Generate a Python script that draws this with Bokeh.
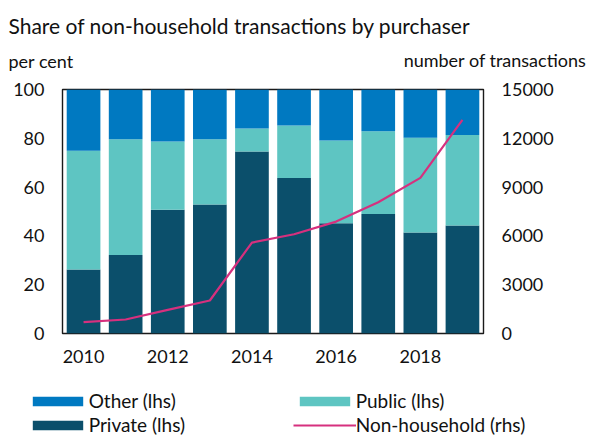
from bokeh.plotting import figure
from bokeh.layouts import column
from bokeh.models import (Range1d, LinearAxis, FixedTicker, Label, Legend,
                          LegendItem, ColumnDataSource)
from bokeh.embed import file_html
from bokeh.resources import INLINE

# ---- data ----
years = [2010, 2011, 2012, 2013, 2014, 2015, 2016, 2017, 2018, 2019]
private = [26.2, 32.2, 50.7, 52.9, 74.6, 63.7, 45.2, 49.0, 41.4, 44.3]
public = [48.7, 47.4, 28.0, 26.7, 9.4, 21.5, 33.9, 33.9, 38.8, 37.1]
other = [25.1, 20.4, 21.3, 20.4, 16.0, 14.8, 20.9, 17.1, 19.8, 18.6]
transactions = [700, 860, 1450, 2030, 5590, 6100, 6880, 8070, 9570, 13130]

left_ticks = [0, 20, 40, 60, 80, 100]
right_ticks = [0, 3000, 6000, 9000, 12000, 15000]
x_ticks = [2010, 2012, 2014, 2016, 2018]

title_text = "Share of non-household transactions by purchaser"
left_unit = "per cent"
right_unit = "number of transactions"
legend_labels = ["Other (lhs)", "Public (lhs)", "Private (lhs)", "Non-household (rhs)"]

C_OTHER = "#0079C1"
C_PUBLIC = "#5EC5C2"
C_PRIVATE = "#0B4F6B"
C_LINE = "#D6307E"
FONT = "Lato"
TXT = "#111111"

# geometry (canvas pixels)
W = 591
H_MAIN, H_LEG = 384, 52
FL, FR, FT, FB = 62, 483, 89, 333
X0, X1 = 2009.5, 2019.5
Y0, Y1 = 0, 100

def px_x(px):
    return X0 + (px - FL) / (FR - FL) * (X1 - X0)

def px_y(py):
    return Y0 + (FB - py) / (FB - FT) * (Y1 - Y0)

src = ColumnDataSource(dict(year=years, private=private, public=public, other=other,
                            transactions=transactions))

p = figure(width=W, height=H_MAIN, output_backend="svg", toolbar_location=None,
           x_range=Range1d(X0, X1), y_range=Range1d(Y0, Y1),
           min_border_left=FL, min_border_right=W - FR, min_border_top=FT,
           min_border_bottom=H_MAIN - FB)
p.title = None
p.grid.visible = False
p.background_fill_color = "white"
p.border_fill_color = "white"
p.outline_line_color = "#1a1a1a"
p.outline_line_width = 1.4

p.extra_y_ranges = {"rhs": Range1d(0, 15000)}

bars = p.vbar_stack(["private", "public", "other"], x="year", width=0.8,
                    color=[C_PRIVATE, C_PUBLIC, C_OTHER], line_color=None, source=src)
ln = p.line("year", "transactions", source=src, y_range_name="rhs",
            line_color=C_LINE, line_width=2.2)

def style_axis(ax, ticks, standoff):
    ax.ticker = FixedTicker(ticks=ticks)
    ax.major_tick_line_color = None
    ax.minor_tick_line_color = None
    ax.major_tick_in = 0
    ax.major_tick_out = 0
    ax.axis_line_color = None
    ax.major_label_text_font = FONT
    ax.major_label_text_font_size = "18px"
    ax.major_label_text_color = TXT
    ax.major_label_standoff = standoff

style_axis(p.yaxis[0], left_ticks, 18)
style_axis(p.xaxis[0], x_ticks, 16)
rax = LinearAxis(y_range_name="rhs")
style_axis(rax, right_ticks, 18)
p.add_layout(rax, "right")

def txt(text, px, py, size, align):
    return Label(x=px_x(px), y=px_y(py), text=text, text_font=FONT,
                 text_font_size=size, text_color=TXT, text_baseline="alphabetic",
                 text_align=align)

p.add_layout(txt(title_text, 8, 25, "21px", "left"), "above")
p.add_layout(txt(left_unit, 8, 60, "18px", "left"), "above")
p.add_layout(txt(right_unit, 586, 59.5, "18px", "right"), "above")

# ---- legend strip below (same series, hidden proxies) ----
q = figure(width=W, height=H_LEG, output_backend="svg", toolbar_location=None,
           x_range=Range1d(X0, X1), y_range=Range1d(Y0, Y1),
           x_axis_location=None, y_axis_location=None,
           min_border=0, min_border_left=0, min_border_right=0,
           min_border_top=0, min_border_bottom=0)
q.title = None
q.grid.visible = False
q.outline_line_color = None
for fig in (p, q):
    try:
        fig.frame_align = False
    except Exception:
        pass

q_bars = q.vbar_stack(["private", "public", "other"], x="year", width=0.8,
                      color=[C_PRIVATE, C_PUBLIC, C_OTHER], line_color=None, source=src)
q_line = q.line("year", "transactions", source=src, line_color=C_LINE, line_width=2.2)
for r in list(q_bars) + [q_line]:
    r.visible = False

legend = Legend(items=[
    LegendItem(label=legend_labels[0], renderers=[q_bars[2]]),
    LegendItem(label=legend_labels[1], renderers=[q_bars[1]]),
    LegendItem(label=legend_labels[2], renderers=[q_bars[0]]),
    LegendItem(label=legend_labels[3], renderers=[q_line]),
], orientation="horizontal", ncols=2, location=(25.7, 0),
    glyph_width=63, glyph_height=12, label_standoff=0, label_width=203,
    label_height=20, spacing=1, padding=0, margin=0,
    label_text_font=FONT, label_text_font_size="19px", label_text_color=TXT,
    border_line_color=None, background_fill_alpha=0, inactive_fill_alpha=0)
q.add_layout(legend, "center")

layout = column(p, q, spacing=0)
open("out.html", "w").write(file_html(layout, INLINE))
